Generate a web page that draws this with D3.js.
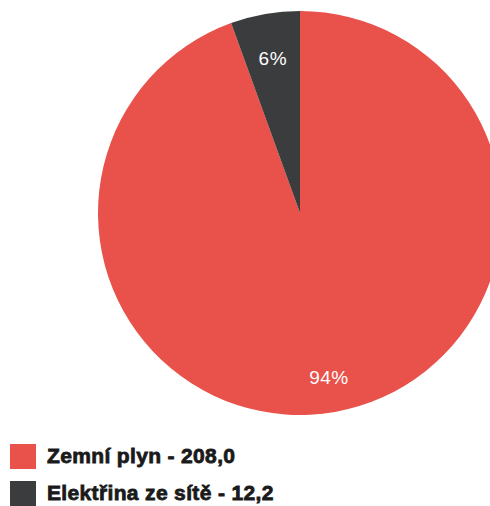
<!DOCTYPE html>
<html>
<head>
<meta charset="utf-8">
<script src="https://cdn.jsdelivr.net/npm/d3@7"></script>
<style>
  html, body { margin: 0; padding: 0; background: #fff; overflow: hidden; }
  svg { display: block; }
</style>
</head>
<body>
<script>
const width = 490;
const height = 506;

// data
const categories = ['Zemní plyn', 'Elektřina ze sítě'];
const values = [208.0, 12.2];
const valueLabels = ['208,0', '12,2'];
const pctLabels = ['94%', '6%'];
const colors = ['#e9524b', '#3b3c3e'];

const svg = d3.select('body').append('svg')
  .attr('width', width)
  .attr('height', height);

const cx = 300, cy = 213, r = 202;

const pie = d3.pie().sort(null).value(d => d.v);
const arcs = pie(values.map((v, i) => ({ v: v, i: i })));

const arc = d3.arc().innerRadius(0).outerRadius(r);
// small slice label sits a bit further in
const labelR = i => (i === 1 ? 157 : 167);

const g = svg.append('g').attr('transform', `translate(${cx},${cy})`);

g.selectAll('path')
  .data(arcs)
  .join('path')
  .attr('d', arc)
  .attr('fill', d => colors[d.data.i]);

g.selectAll('text')
  .data(arcs)
  .join('text')
  .attr('transform', d => {
    const lr = labelR(d.data.i);
    const c = d3.arc().innerRadius(lr).outerRadius(lr).centroid(d);
    return `translate(${c[0]},${c[1]})`;
  })
  .attr('text-anchor', 'middle')
  .attr('dy', '0.35em')
  .attr('fill', '#fff')
  .attr('font-family', 'Liberation Sans, Arial, sans-serif')
  .attr('font-size', 19)
  .attr('letter-spacing', 0.5)
  .text(d => pctLabels[d.data.i]);

// legend
const legend = svg.append('g').attr('transform', 'translate(10,444)');
const rows = legend.selectAll('g')
  .data(categories)
  .join('g')
  .attr('transform', (d, i) => `translate(0,${i * 37})`);

rows.append('rect')
  .attr('width', 26)
  .attr('height', 25)
  .attr('fill', (d, i) => colors[i]);

rows.append('text')
  .attr('x', 37)
  .attr('y', 19)
  .attr('font-family', 'Liberation Sans, Arial, sans-serif')
  .attr('font-weight', 'bold')
  .attr('font-size', 21)
  .attr('letter-spacing', 0.35)
  .attr('fill', '#1a1a1a')
  .attr('stroke', '#1a1a1a')
  .attr('stroke-width', 0.8)
  .text((d, i) => `${d} - ${valueLabels[i]}`);
</script>
</body>
</html>
